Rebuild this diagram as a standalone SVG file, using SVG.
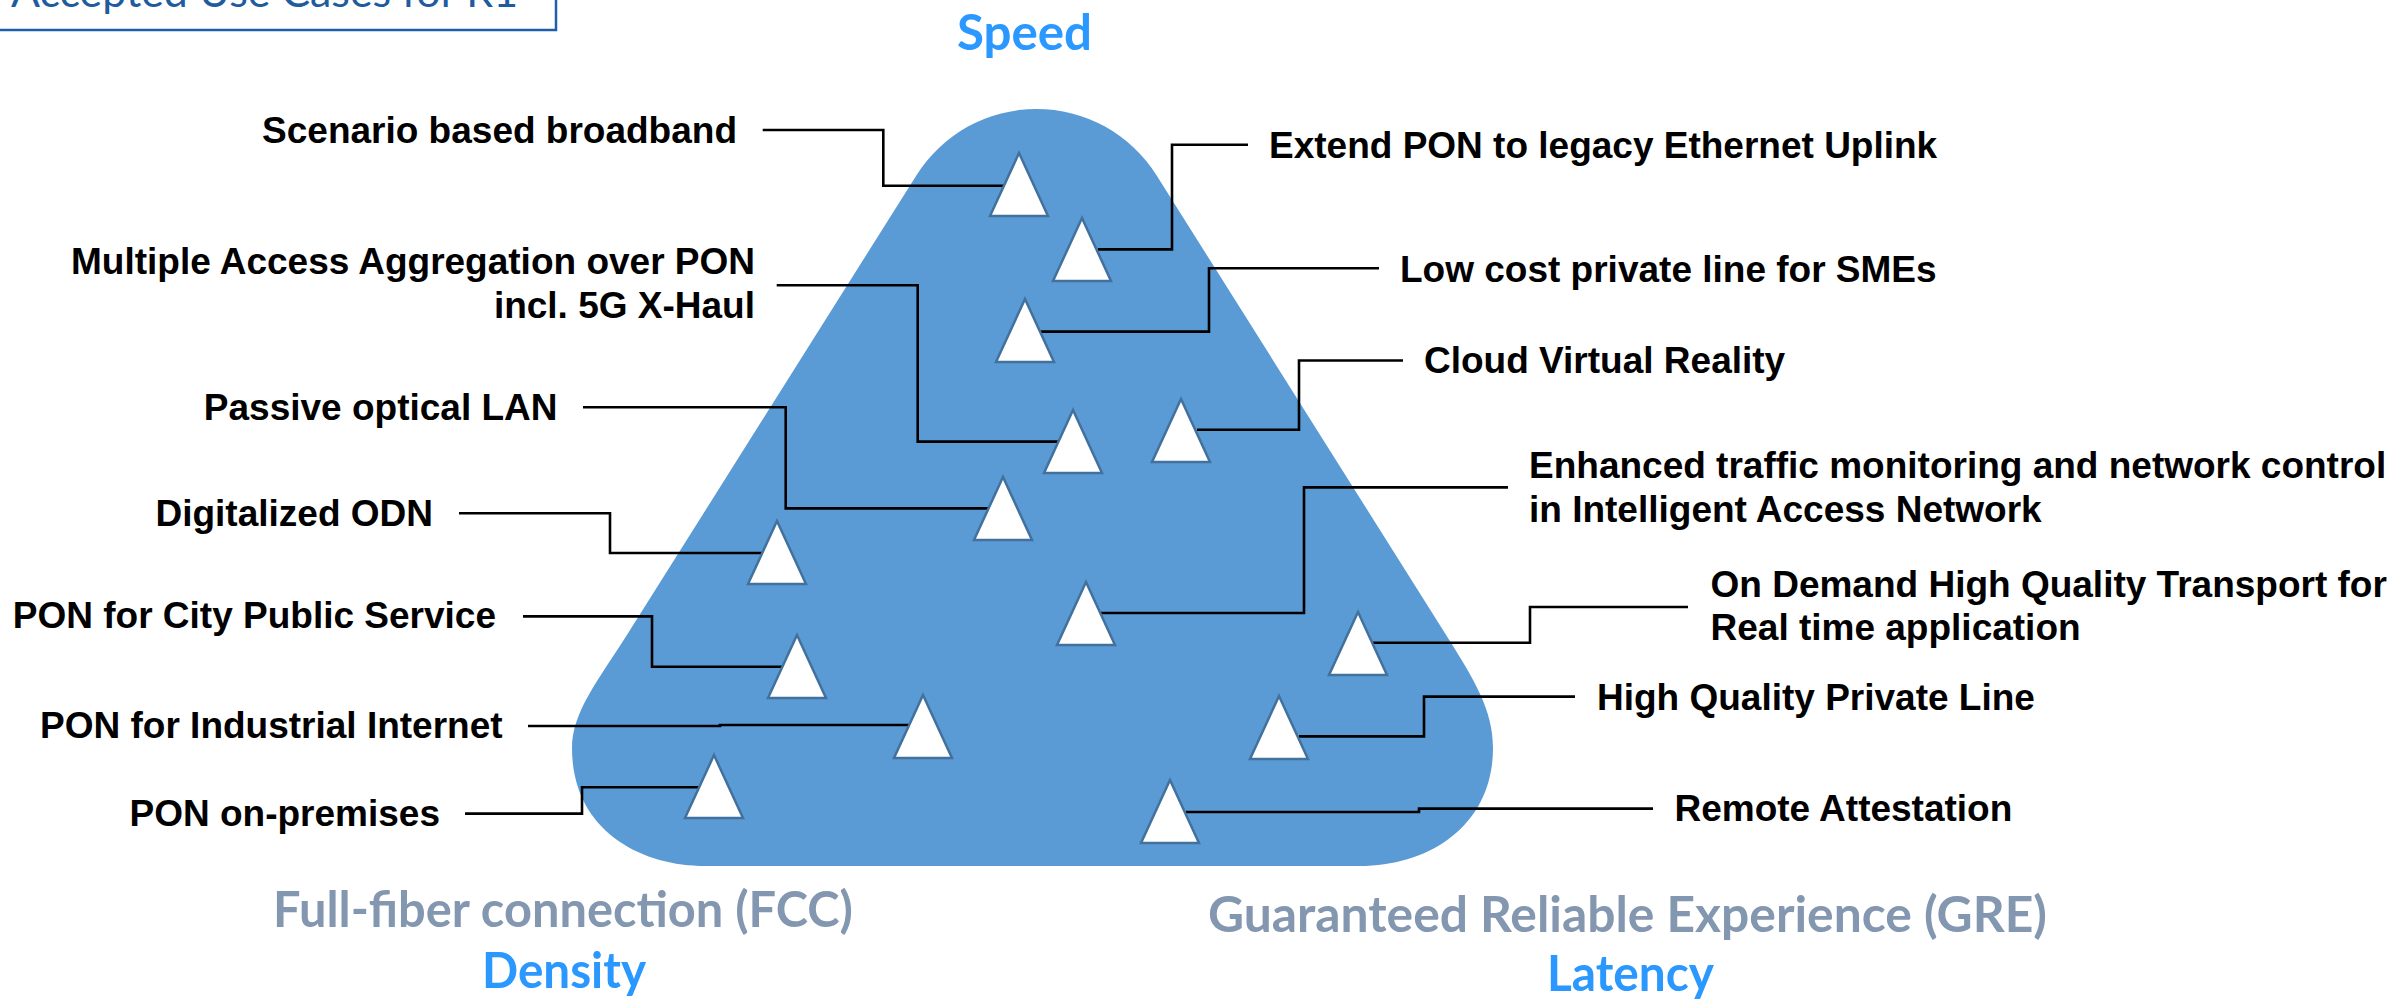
<svg xmlns="http://www.w3.org/2000/svg" width="2397" height="1002" viewBox="0 0 2397 1002">
<style>
.lbl{font-family:"Liberation Sans",Arial,sans-serif;font-weight:bold;font-size:37px;fill:#000}
.end{text-anchor:end}
.tri{fill:#fff;stroke:#41719c;stroke-width:2.5;stroke-linejoin:miter}
.con{fill:none;stroke:#000;stroke-width:2.6}
.axis{font-family:Lato,"Open Sans",sans-serif;font-weight:bold;font-size:49px}
.pillar{fill:#8497b0}
.dim{fill:#2b98ff}
</style>
<rect width="2397" height="1002" fill="#fff"/>
<g id="title">
<rect x="-3" y="-12" width="559" height="42" fill="#fff" stroke="#1f5fa8" stroke-width="2.5"/>
<text x="11" y="7" font-family="Lato,'Open Sans',sans-serif" font-size="42" fill="#1f5c9e" textLength="507" lengthAdjust="spacingAndGlyphs">Accepted Use Cases for R1</text>
</g>
<g id="blob">
<path d="M916.5,175.2 A141.8,141.8 0 0 1 1156.5,175.2 L1446.1,635 C1474.5,680 1493,710 1493,748 C1493,825 1430,866 1360,866 L705,866 C640,866 572,830 572,748 C572,712 598.5,680 626.9,635 Z" fill="#5b9bd5"/>
</g>
<g id="axes">
<text class="axis dim" x="957" y="50" textLength="135" lengthAdjust="spacingAndGlyphs">Speed</text>
<text class="axis pillar" x="273" y="927" textLength="580" lengthAdjust="spacingAndGlyphs">Full-fiber connection (FCC)</text>
<text class="axis dim" x="482" y="988" textLength="164" lengthAdjust="spacingAndGlyphs">Density</text>
<text class="axis pillar" x="1208" y="932" textLength="839" lengthAdjust="spacingAndGlyphs">Guaranteed Reliable Experience (GRE)</text>
<text class="axis dim" x="1547" y="991" textLength="167" lengthAdjust="spacingAndGlyphs">Latency</text>
</g>
<g id="connectors">
<path class="con" d="M762.7,130 H883.3 V185.7 H1004"/>
<path class="con" d="M1098,249.4 H1172 V144.8 H1248"/>
<path class="con" d="M1041,331.6 H1209 V268.3 H1379"/>
<path class="con" d="M1197,429.7 H1299 V360.5 H1403"/>
<path class="con" d="M776.7,285.3 H917.7 V441.6 H1059"/>
<path class="con" d="M583,407.3 H785.7 V508.4 H988"/>
<path class="con" d="M459,513.3 H610 V553 H762"/>
<path class="con" d="M523,616.4 H652 V666.7 H782"/>
<path class="con" d="M528,726 H720 V725 H909"/>
<path class="con" d="M465,813.6 H582 V787.2 H699"/>
<path class="con" d="M1101,613 H1304 V487.4 H1508"/>
<path class="con" d="M1373,642.8 H1530 V607 H1688"/>
<path class="con" d="M1299,736.4 H1424 V696.6 H1575"/>
<path class="con" d="M1186,812 H1419 V808.6 H1653"/>
</g>
<g id="n-scenario"><polygon class="tri" points="1019,153 990,216 1048,216"/><text class="lbl end" x="737" y="143">Scenario based broadband</text></g>
<g id="n-extend"><polygon class="tri" points="1082,218 1053,281 1111,281"/><text class="lbl" x="1269" y="158">Extend PON to legacy Ethernet Uplink</text></g>
<g id="n-lowcost"><polygon class="tri" points="1025,299 996,362 1054,362"/><text class="lbl" x="1400" y="281.5">Low cost private line for SMEs</text></g>
<g id="n-cloudvr"><polygon class="tri" points="1181,399 1152,462 1210,462"/><text class="lbl" x="1424" y="373">Cloud Virtual Reality</text></g>
<g id="n-multiaccess"><polygon class="tri" points="1073,410 1044,473 1102,473"/><text class="lbl end" x="755" y="274">Multiple Access Aggregation over PON</text><text class="lbl end" x="755" y="318">incl. 5G X-Haul</text></g>
<g id="n-pol"><polygon class="tri" points="1003,477 974,540 1032,540"/><text class="lbl end" x="557.5" y="420">Passive optical LAN</text></g>
<g id="n-odn"><polygon class="tri" points="777,521 748,584 806,584"/><text class="lbl end" x="433" y="526">Digitalized ODN</text></g>
<g id="n-city"><polygon class="tri" points="797,635 768,698 826,698"/><text class="lbl end" x="496" y="628">PON for City Public Service</text></g>
<g id="n-industrial"><polygon class="tri" points="923,695 894,758 952,758"/><text class="lbl end" x="502.6" y="738">PON for Industrial Internet</text></g>
<g id="n-onprem"><polygon class="tri" points="714,755 685,818 743,818"/><text class="lbl end" x="440" y="826">PON on-premises</text></g>
<g id="n-enhanced"><polygon class="tri" points="1086,582 1057,645 1115,645"/><text class="lbl" x="1529" y="478">Enhanced traffic monitoring and network control</text><text class="lbl" x="1529" y="522">in Intelligent Access Network</text></g>
<g id="n-ondemand"><polygon class="tri" points="1358,612 1329,675 1387,675"/><text class="lbl" x="1710.5" y="597">On Demand High Quality Transport for</text><text class="lbl" x="1710.5" y="640">Real time application</text></g>
<g id="n-hqpl"><polygon class="tri" points="1279,696 1250,759 1308,759"/><text class="lbl" x="1597" y="710">High Quality Private Line</text></g>
<g id="n-remote"><polygon class="tri" points="1170,780 1141,843 1199,843"/><text class="lbl" x="1674.5" y="821">Remote Attestation</text></g>
</svg>
